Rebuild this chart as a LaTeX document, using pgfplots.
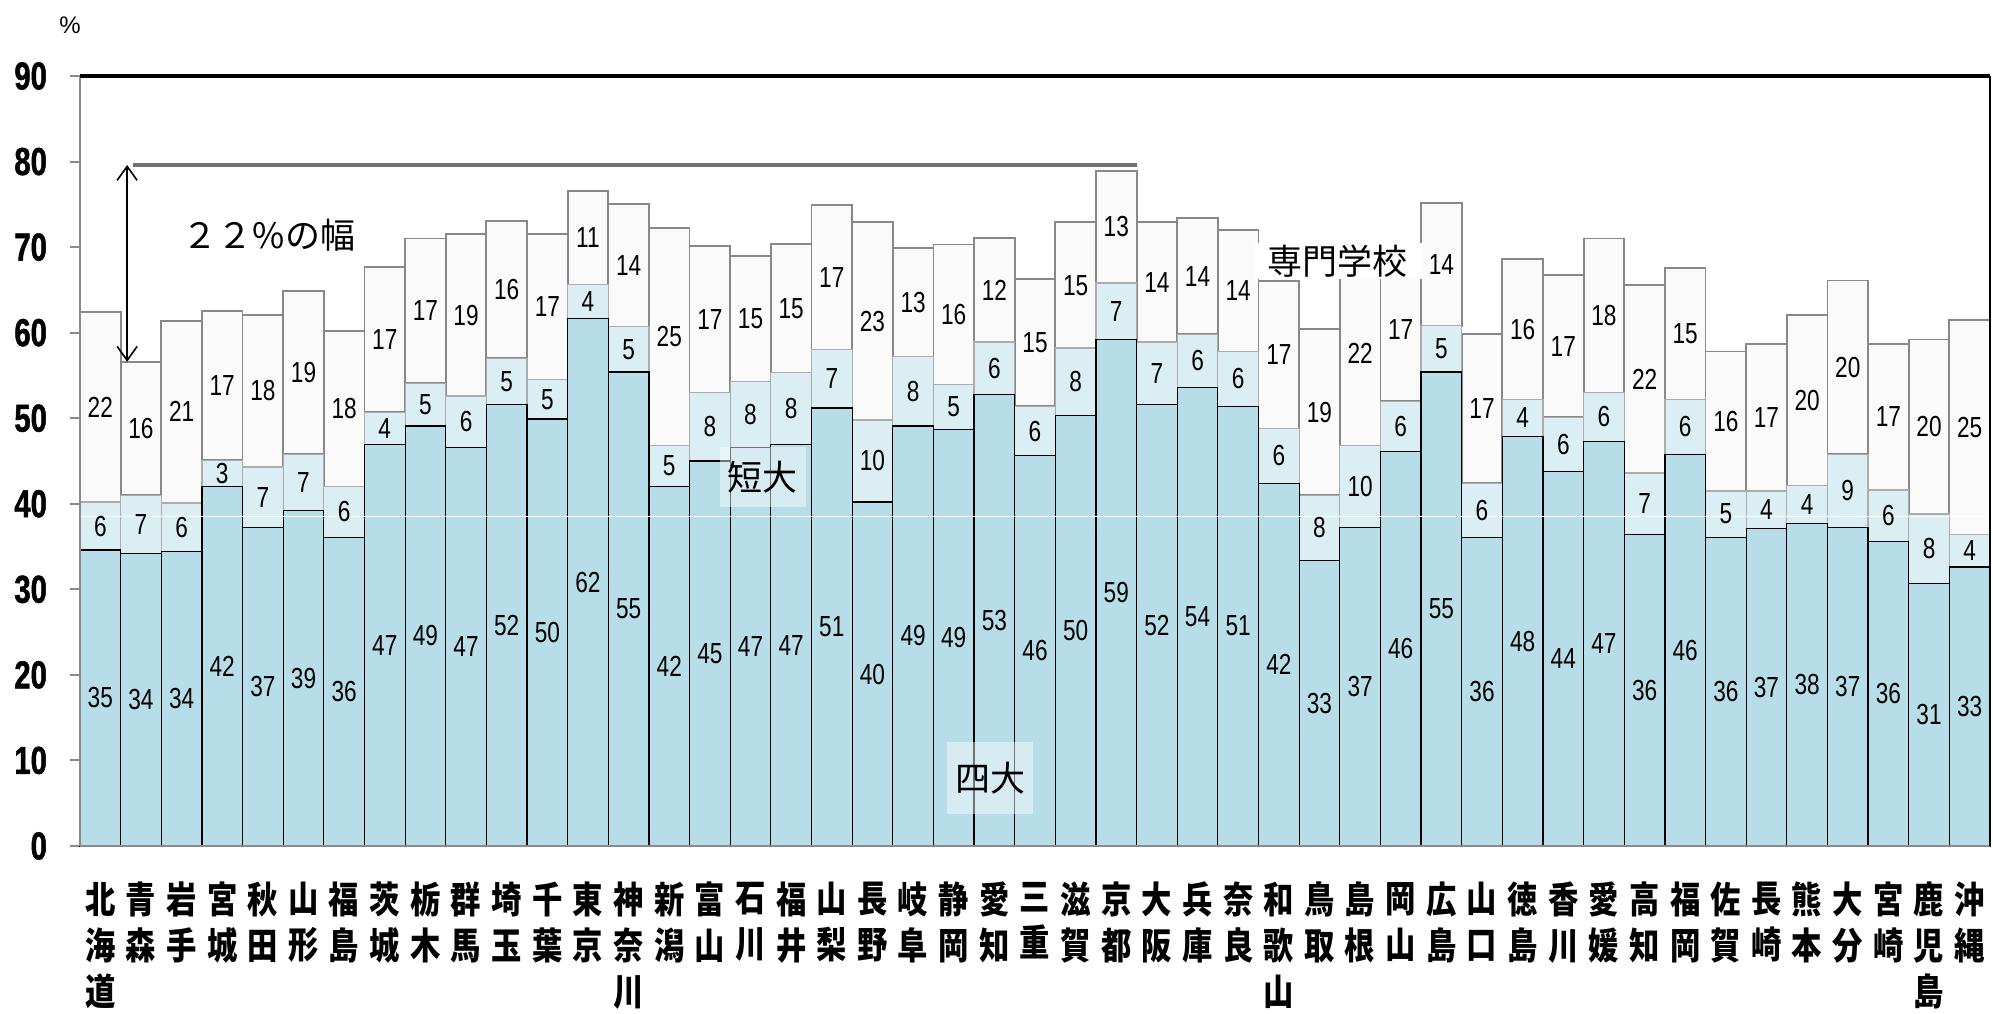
\documentclass[border=0pt]{standalone}
\usepackage{pgfplots}
\pgfplotsset{compat=1.18}
\usepackage{pgfplotstable}
\usepackage{fontspec}
\usetikzlibrary{arrows.meta}
\setmainfont{Liberation Sans}
\newfontfamily\numfont{Liberation Sans}[FakeStretch=0.78]
\newfontfamily\tickfont{Liberation Sans Bold}[FakeStretch=0.75, FakeBold=1.2]
\newfontfamily\jp{Noto Sans CJK JP}
\newfontfamily\jpbold{Noto Sans CJK JP Black}[FakeStretch=0.82]

\definecolor{univ}{HTML}{B7DDE8}
\definecolor{junior}{HTML}{DAEEF3}
\definecolor{voc}{HTML}{FAFAFA}
\definecolor{edge}{HTML}{888888}
\definecolor{axisgray}{HTML}{8A8A8A}

% i: prefecture index, a: 四大, b: 短大, c: 専門学校 (%)
\pgfplotstableread{
i a b c
0 34.6 5.6 22.2
1 34.2 6.8 15.6
2 34.4 5.7 21.3
3 42.0 3.1 17.4
4 37.2 7.1 17.8
5 39.2 6.6 19.1
6 36.1 5.9 18.2
7 46.9 3.8 17.0
8 49.1 5.0 16.9
9 46.6 6.0 18.9
10 51.6 5.4 16.1
11 49.9 4.6 17.0
12 61.7 3.9 11.0
13 55.4 5.3 14.3
14 42.0 4.8 25.4
15 45.0 8.0 17.1
16 46.6 7.7 14.7
17 46.9 8.4 15.1
18 51.2 6.8 16.9
19 40.2 9.6 23.1
20 49.1 8.1 12.7
21 48.7 5.2 16.4
22 52.8 6.1 12.2
23 45.6 5.8 14.9
24 50.3 7.9 14.7
25 59.2 6.6 13.1
26 51.6 7.3 14.0
27 53.6 6.2 13.6
28 51.4 6.4 14.2
29 42.4 6.4 17.2
30 33.4 7.6 19.4
31 37.2 9.6 21.6
32 46.1 5.9 16.8
33 55.4 5.4 14.4
34 36.1 6.3 17.4
35 47.9 4.3 16.4
36 43.8 6.3 16.6
37 47.3 5.7 18.0
38 36.4 7.2 22.0
39 45.8 6.4 15.4
40 36.1 5.4 16.3
41 37.1 4.4 17.2
42 37.7 4.4 20.0
43 37.2 8.6 20.3
44 35.6 6.0 17.1
45 30.7 8.1 20.4
46 32.6 3.8 25.1
}\rates

\begin{document}
\begin{tikzpicture}
\useasboundingbox (0,0) rectangle (996.5pt,506.5pt);
\pgfplotsset{
  plotframe/.style={
    at={(40pt,83.5pt)}, anchor=south west, scale only axis,
    width=955pt, height=385pt,
    xmin=-0.5, xmax=46.5, ymin=0, ymax=90,
    /pgf/number format/assume math mode=true,
  },
  seglabel/.style={
    draw=none, mark=none, point meta=explicit,
    nodes near coords={\pgfmathprintnumber[fixed,precision=0]{\pgfplotspointmeta}},
    every node near coord/.append style={anchor=center, inner sep=0pt,
      font=\numfont\fontsize{14.5}{14.5}\selectfont, text=black},
  },
}
% stacked bars, axes and tick labels
\begin{axis}[plotframe,
  ybar stacked, bar width=1,
  axis line style={draw=none},
  ytick={0,10,...,90}, ytick pos=left,
  tick align=outside, major tick length=5pt,
  ytick style={axisgray, line width=1pt},
  yticklabel style={font=\tickfont\fontsize{19.5}{19.5}\selectfont, xshift=-8pt},
  xtick={0,...,46}, xtick style={draw=none},
  xticklabel style={align=center, font=\jpbold\fontsize{18.5}{23}\selectfont, yshift=-9.5pt},
  xticklabels={{北\\海\\道},{青\\森},{岩\\手},{宮\\城},{秋\\田},{山\\形},{福\\島},
    {茨\\城},{栃\\木},{群\\馬},{埼\\玉},{千\\葉},{東\\京},{神\\奈\\川},
    {新\\潟},{富\\山},{石\\川},{福\\井},{山\\梨},{長\\野},{岐\\阜},{静\\岡},{愛\\知},
    {三\\重},{滋\\賀},{京\\都},{大\\阪},{兵\\庫},{奈\\良},{和\\歌\\山},
    {鳥\\取},{島\\根},{岡\\山},{広\\島},{山\\口},{徳\\島},{香\\川},{愛\\媛},{高\\知},
    {福\\岡},{佐\\賀},{長\\崎},{熊\\本},{大\\分},{宮\\崎},{鹿\\児\\島},{沖\\縄}},
]
\addplot[fill=univ, draw=black, line width=0.6pt] table[x=i, y=a] {\rates};
\addplot[fill=junior, draw=edge!70, line width=0.6pt] table[x=i, y=b] {\rates};
\addplot[fill=voc, draw=edge, line width=0.9pt] table[x=i, y=c] {\rates};
\end{axis}

% outlines, segment values and annotations
\begin{axis}[plotframe, hide axis, clip=false]
\addplot[ybar, bar width=1, bar shift=0pt, fill=none, draw=black, line width=0.6pt]
  table[x=i, y=a] {\rates};
\draw[white, line width=0.6pt] (axis cs:-0.5,38.5) -- (axis cs:46.5,38.5);
\addplot[seglabel] table[x=i, y expr=\thisrow{a}/2, meta=a] {\rates};
\addplot[seglabel] table[x=i, y expr=\thisrow{a}+\thisrow{b}/2, meta=b] {\rates};
\addplot[seglabel] table[x=i, y expr=\thisrow{a}+\thisrow{b}+\thisrow{c}/2, meta=c] {\rates};

% range between the highest and the lowest total
\draw[color={rgb,255:red,112;green,112;blue,112}, line width=1.8pt]
  (axis cs:0.8,79.6) -- (axis cs:25.5,79.6);
\draw[<->, >={Straight Barb[length=7pt,width=10pt]}, line width=0.8pt]
  (axis cs:0.66,56.6) -- (axis cs:0.66,79.6);
\node[font=\jp\fontsize{17.5}{17.5}\selectfont] at (axis cs:4.15,71.4) {２２\%の幅};

% series names
\node[fill=white, fill opacity=0.45, text opacity=1, inner xsep=4pt, inner ysep=7pt,
  font=\jp\fontsize{17.5}{17.5}\selectfont] at (axis cs:16.3,43.1) {短大};
\node[fill=white, fill opacity=0.45, text opacity=1, inner xsep=4pt, inner ysep=10pt,
  font=\jp\fontsize{17.5}{17.5}\selectfont] at (axis cs:21.9,7.9) {四大};
\draw[gray, line width=0.5pt] (axis cs:32.0,69.1) -- (axis cs:32.5,69.1);
\node[fill=white, inner xsep=7pt, inner ysep=1pt,
  font=\jp\fontsize{17.5}{17.5}\selectfont] at (axis cs:30.45,68.4) {専門学校};

% plot area frame
\draw[axisgray, line width=1pt] (rel axis cs:0,0) -- (rel axis cs:0,1);
\draw[axisgray, line width=1.2pt] (rel axis cs:0,0) -- (rel axis cs:1,0);
\draw[black, line width=1.8pt] (rel axis cs:0,1) -- (rel axis cs:1,1);
\draw[black, line width=1.3pt] (rel axis cs:1,1) -- (rel axis cs:1,0);
\end{axis}
\node[font=\fontsize{12}{12}\selectfont] at (35pt,494pt) {\%};
\end{tikzpicture}
\end{document}
